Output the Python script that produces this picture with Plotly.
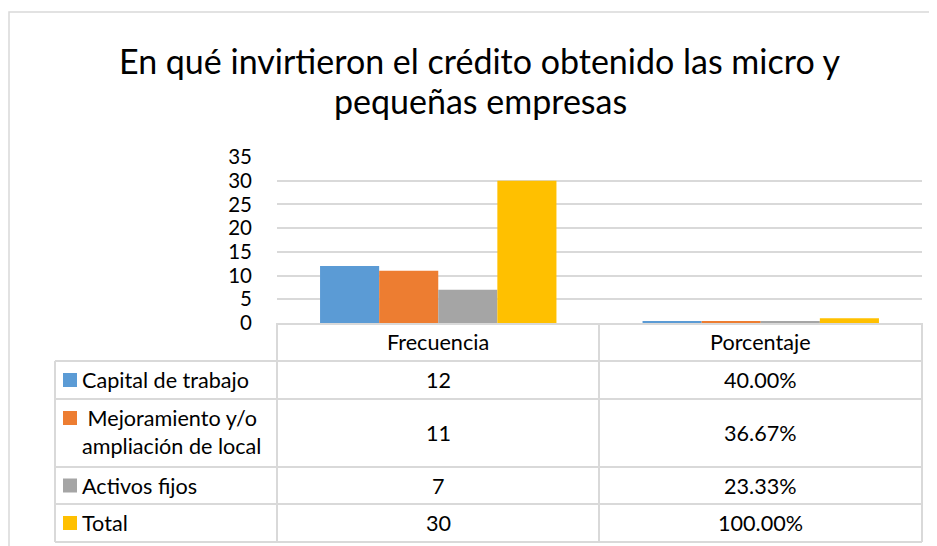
import plotly.graph_objects as go

# ---- data ----
categories = ["Frecuencia", "Porcentaje"]
series_names = ["Capital de trabajo", "Mejoramiento y/o ampliación de local", "Activos fijos", "Total"]
series_lines = [["Capital de trabajo"], [" Mejoramiento y/o", "ampliación de local"], ["Activos fijos"], ["Total"]]
frecuencia = [12, 11, 7, 30]
porcentaje = [0.4, 0.3667, 0.2333, 1.0]
colors = ["#5B9BD5", "#ED7D31", "#A5A5A5", "#FFC000"]
title_lines = ["En qué invirtieron el crédito obtenido las micro y", "pequeñas empresas"]
y_ticks = [0, 5, 10, 15, 20, 25, 30, 35]

# page body has an 8px default margin: lay out in screen pixels, then offset
OFF = 8
W, H = 937 - OFF, 546 - OFF
PLOT_L, PLOT_R, PLOT_T, PLOT_B = 277, 922, 157, 323  # screen px
L = PLOT_L - OFF
R = W - (PLOT_R - OFF)
T = PLOT_T - OFF
B = H - (PLOT_B - OFF)
PW, PH = W - L - R, H - T - B
FONT = "Lato"
GRID = "#d9d9d9"
TXT = 21.6


def px(xs):
    return (xs - PLOT_L) / PW


def py(ys):
    return (PLOT_B - ys) / PH


fig = go.Figure()
for name, f, p, c in zip(series_names, frecuencia, porcentaje, colors):
    fig.add_trace(go.Bar(name=name, x=categories, y=[f, p], marker=dict(color=c, line=dict(width=0)),
                         showlegend=False))

shapes = []
annots = []


def hline(x0, x1, y, layer="above"):
    shapes.append(dict(type="line", xref="paper", yref="paper", x0=px(x0), x1=px(x1), y0=py(y), y1=py(y),
                       line=dict(color=GRID, width=2), layer=layer))


def vline(x, y0, y1):
    shapes.append(dict(type="line", xref="paper", yref="paper", x0=px(x), x1=px(x), y0=py(y0), y1=py(y1),
                       line=dict(color=GRID, width=2)))


# chart border (left + top visible)
shapes.append(dict(type="rect", xref="paper", yref="paper", x0=px(9), x1=px(960), y0=py(12), y1=py(570),
                   line=dict(color=GRID, width=1.5), layer="below"))

# table grid
col_x = [277, 599, 922]
row_y = [361, 399, 467, 504, 542]
hline(277, 922, 324, layer="below")
for yy in row_y:
    hline(55, 922, yy)
for xx in col_x:
    vline(xx, 323, 542)
vline(55, 361, 542)

# header texts
col_centers = [(col_x[0] + col_x[1]) / 2, (col_x[1] + col_x[2]) / 2]
for cx, cat in zip(col_centers, categories):
    annots.append(dict(xref="paper", yref="paper", x=px(cx), y=py(342), text=cat, showarrow=False,
                       xanchor="center", yanchor="middle", font=dict(family=FONT, size=TXT, color="black")))

# rows
for i, (lines, f, p, c) in enumerate(zip(series_lines, frecuencia, porcentaje, colors)):
    ytop, ybot = row_y[i], row_y[i + 1]
    ymid = (ytop + ybot) / 2
    ys = [ymid] if len(lines) == 1 else [ymid - 15, ymid + 13]
    sq_y = ys[0]
    shapes.append(dict(type="rect", xref="paper", yref="paper", x0=px(63), x1=px(77), y0=py(sq_y - 7),
                       y1=py(sq_y + 7), fillcolor=c, line=dict(width=0)))
    for ln, yy in zip(lines, ys):
        txt = ("&nbsp;" + ln[1:]) if ln.startswith(" ") else ln
        annots.append(dict(xref="paper", yref="paper", x=px(80), y=py(yy), text=txt,
                           showarrow=False, xanchor="left", yanchor="middle",
                           font=dict(family=FONT, size=TXT, color="black")))
    annots.append(dict(xref="paper", yref="paper", x=px(col_centers[0]), y=py(ymid), text=str(f),
                       showarrow=False, xanchor="center", yanchor="middle",
                       font=dict(family=FONT, size=TXT, color="black")))
    annots.append(dict(xref="paper", yref="paper", x=px(col_centers[1]), y=py(ymid), text=f"{p * 100:.2f}%",
                       showarrow=False, xanchor="center", yanchor="middle",
                       font=dict(family=FONT, size=TXT, color="black")))

# title
for ln, yy in zip(title_lines, [61, 100]):
    annots.append(dict(xref="paper", yref="paper", x=px(480), y=py(yy), text=ln, showarrow=False,
                       xanchor="center", yanchor="middle", font=dict(family=FONT, size=34, color="black")))

fig.update_layout(
    width=W, height=H,
    margin=dict(l=L, r=R, t=T, b=B, pad=0),
    paper_bgcolor="white", plot_bgcolor="white",
    barmode="group", bargap=0.267, bargroupgap=0,
    shapes=shapes, annotations=annots,
    font=dict(family=FONT, color="black"),
    xaxis=dict(showticklabels=False, showgrid=False, zeroline=False, showline=False, ticks=""),
    yaxis=dict(range=[0, 35], tickvals=y_ticks, showgrid=True, gridcolor=GRID, gridwidth=1.5,
               zeroline=False, showline=False, ticks="", ticklabelstandoff=24,
               tickfont=dict(family=FONT, size=20.5, color="black")),
)

fig.write_html("out.html")
